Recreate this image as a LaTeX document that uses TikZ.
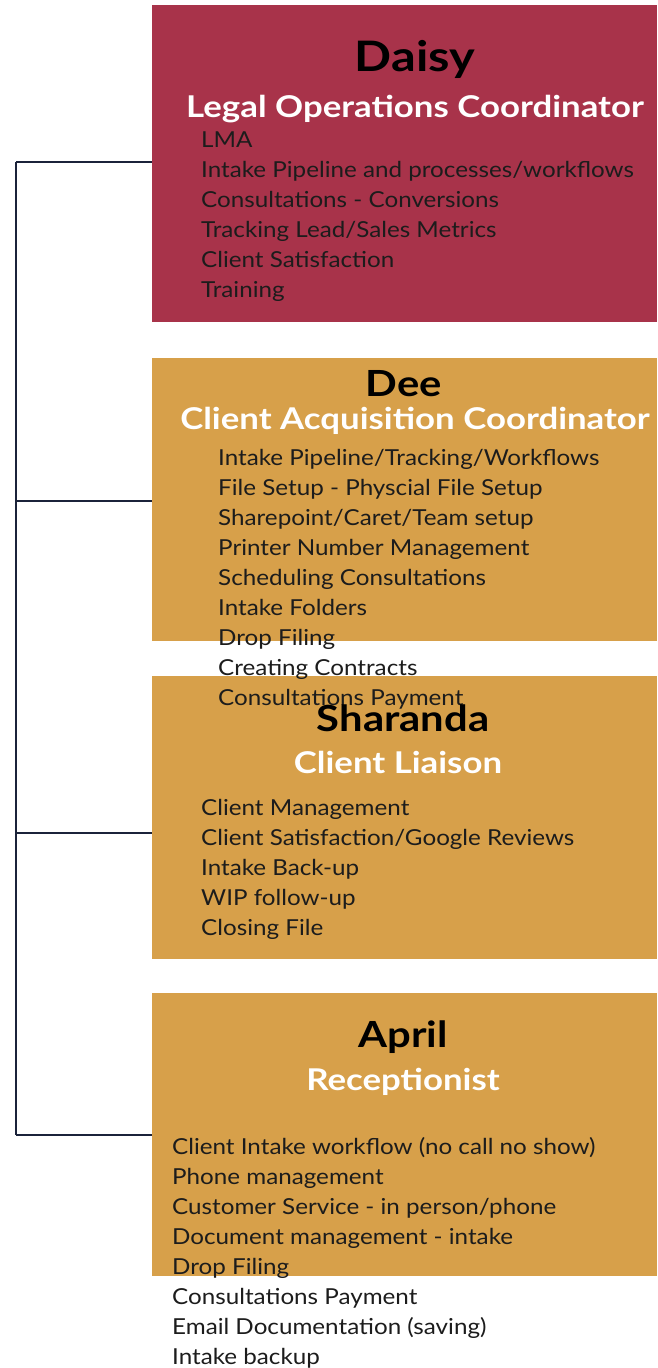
\documentclass[tikz,border=0pt]{standalone}
\usepackage{fontspec}
\setmainfont{Lato}[FakeStretch=1.1]
\newfontfamily\headfont{Lato}[FakeStretch=1.16]
\definecolor{crimson}{RGB}{168,51,74}
\definecolor{gold}{RGB}{215,160,74}
\definecolor{navy}{RGB}{27,35,58}
\definecolor{itemtext}{RGB}{28,28,28}
\begin{document}
\begin{tikzpicture}[x=1pt,y=-1pt,
  rolebox/.style={rectangle, fill=#1, draw=none, inner sep=0, outer sep=0,
    minimum width=505pt, minimum height=283pt, anchor=north west},
  conn/.style={draw=navy, line width=1.5pt},
  item/.style={inner sep=0, anchor=base west, text=itemtext, font=\fontsize{22}{26}\selectfont},
  pname/.style={inner sep=0, anchor=base, text=black, font=\headfont\bfseries\fontsize{36}{40}\selectfont},
  ptitle/.style={inner sep=0, anchor=base, text=white, font=\headfont\bfseries\fontsize{30}{34}\selectfont}]
\useasboundingbox (0,0) rectangle (657,1368);
% boxes
\node[rolebox=crimson, minimum height=317pt] (daisy) at (152,5) {};
\node[rolebox=gold] (dee) at (152,358) {};
\node[rolebox=gold] (sharanda) at (152,676) {};
\node[rolebox=gold] (april) at (152,993) {};
% connectors
\coordinate (t1) at (16,162);
\coordinate (t2) at (16,501);
\coordinate (t3) at (16,833);
\coordinate (t4) at (16,1135);
\draw[conn] (t1) -- (t4);
\draw[conn] (t1) -- (t1 -| daisy.west);
\draw[conn] (t2) -- (t2 -| dee.west);
\draw[conn] (t3) -- (t3 -| sharanda.west);
\draw[conn] (t4) -- (t4 -| april.west);
% Daisy
\node[pname, font=\headfont\bfseries\fontsize{42}{46}\selectfont] (daisyname) at (415,71) {Daisy};
\node[ptitle] (daisytitle) at (415,117) {Legal Operations Coordinator};
\foreach \t [count=\i] in {LMA, Intake Pipeline and processes/workflows, Consultations - Conversions, Tracking Lead/Sales Metrics, Client Satisfaction, Training}
  \node[item] (da\i) at (201,{147+30*(\i-1)}) {\t};
% Dee
\node[pname] (deename) at (404,396) {Dee};
\node[ptitle] (deetitle) at (415,429) {Client Acquisition Coordinator};
\foreach \t [count=\i] in {Intake Pipeline/Tracking/Workflows, File Setup - Physcial File Setup, Sharepoint/Caret/Team setup, Printer Number Management, Scheduling Consultations, Intake Folders, Drop Filing, Creating Contracts, Consultations Payment}
  \node[item] (de\i) at (218,{465+30*(\i-1)}) {\t};
% Sharanda
\node[pname] (shname) at (403,731) {Sharanda};
\node[ptitle] (shtitle) at (398,773) {Client Liaison};
\foreach \t [count=\i] in {Client Management, Client Satisfaction/Google Reviews, Intake Back-up, WIP follow-up, Closing File}
  \node[item] (sh\i) at (201,{815+30*(\i-1)}) {\t};
% April
\node[pname] (apname) at (403,1047) {April};
\node[ptitle] (aptitle) at (403,1090) {Receptionist};
\foreach \t [count=\i] in {Client Intake workflow (no call no show), Phone management, Customer Service - in person/phone, Document management - intake, Drop Filing, Consultations Payment, Email Documentation (saving), Intake backup}
  \node[item] (ap\i) at (172,{1154+30*(\i-1)}) {\t};
\end{tikzpicture}
\end{document}
